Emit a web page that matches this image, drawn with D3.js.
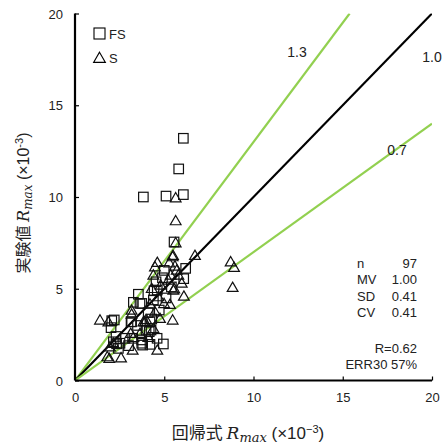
<!DOCTYPE html>
<html><head><meta charset="utf-8">
<script src="https://cdn.jsdelivr.net/npm/d3@7"></script>
<style>body{margin:0;background:#fff}svg{display:block}</style>
</head><body>
<script>
const xTicks = [0, 5, 10, 15, 20];
const yTicks = [0, 5, 10, 15, 20];
const fsPoints = [[6.07,13.2],[5.81,11.53],[3.83,10.0],[5.10,10.05],[6.07,10.13],[5.55,7.55],[6.2,6.11],[6.09,5.55],[4.54,5.38],[4.43,4.89],[4.61,4.93],[3.55,4.7],[3.27,4.26],[3.64,4.2],[4.39,4.39],[4.72,3.84],[2.2,3.3],[2.02,2.88],[3.14,3.2],[4.3,3.35],[3.98,2.75],[4.26,2.75],[3.74,2.21],[3.79,1.93],[2.15,2.11],[2.52,2.03],[2.43,1.75],[4.2,1.97],[4.95,1.99],[2.06,3.26],[3.74,4.2],[3.17,3.2],[4.2,3.2],[2.33,2.0],[3.23,2.3],[4.16,2.66],[3.74,2.03],[5.0,6.0],[5.4,5.1],[4.9,5.6],[4.1,3.7],[2.8,2.3],[3.5,3.0],[5.1,4.5],[4.6,2.3],[3.0,1.9],[2.3,2.4]];
const sPoints = [[5.64,9.96],[5.64,8.71],[5.64,7.51],[5.49,6.82],[6.72,6.82],[8.72,6.47],[8.91,6.17],[8.83,5.08],[4.61,6.44],[5.47,6.75],[5.28,6.42],[5.6,6.24],[5.7,6.02],[4.48,6.2],[4.39,5.75],[5.36,5.75],[5.23,5.48],[5.98,5.31],[5.56,5.0],[4.3,5.02],[5.79,5.75],[5.51,4.93],[4.67,4.57],[3.17,3.84],[4.2,4.17],[4.99,4.2],[5.32,4.15],[4.48,3.75],[1.4,3.3],[1.87,3.2],[3.98,3.33],[4.76,3.39],[5.47,3.3],[3.83,3.2],[3.12,2.57],[3.27,2.35],[4.11,2.35],[2.15,2.03],[1.96,1.84],[4.61,1.66],[3.23,1.66],[2.58,1.24],[1.92,1.21],[1.81,1.3],[3.17,3.62],[3.64,2.57],[4.39,2.84],[3.92,3.2],[4.8,5.2],[6.1,4.6]];
const ratioLines = [{k:1.3,label:"1.3",color:"#92d050"},{k:1.0,label:"1.0",color:"#000"},{k:0.7,label:"0.7",color:"#92d050"}];
const statLabels = ["n","MV","SD","CV"];
const statValues = ["97","1.00","0.41","0.41"];
const extraStats = ["R=0.62","ERR30 57%"];

const W = 444, H = 446;
const svg = d3.select("body").append("svg").attr("width", W).attr("height", H)
  .style("font-family", "'Liberation Sans', Arial, sans-serif");
const x = d3.scaleLinear().domain([0,20]).range([75,432]);
const y = d3.scaleLinear().domain([0,20]).range([380.5,13.5]);

const clipId = "plotclip";
svg.append("clipPath").attr("id", clipId).append("rect")
  .attr("x", x(0)).attr("y", y(20)).attr("width", x(20)-x(0)).attr("height", y(0)-y(20));

// ratio lines
const lg = svg.append("g").attr("clip-path", `url(#${clipId})`);
ratioLines.forEach(r => {
  const xe = Math.min(20, 20 / r.k);
  lg.append("line").attr("x1", x(0)).attr("y1", y(0)).attr("x2", x(xe)).attr("y2", y(xe * r.k))
    .attr("stroke", r.color).attr("stroke-width", 2.2);
});

// points
const pg = svg.append("g").attr("fill","none").attr("stroke","#111").attr("stroke-width",1.2);
const sq = 9.5;
pg.selectAll("rect.fs").data(fsPoints).join("rect").attr("class","fs")
  .attr("x", d => x(d[0]) - sq/2).attr("y", d => y(d[1]) - sq/2).attr("width", sq).attr("height", sq);
const tri = d3.symbol().type(d3.symbolTriangle).size(50);
pg.selectAll("path.s").data(sPoints).join("path").attr("class","s")
  .attr("d", tri).attr("transform", d => `translate(${x(d[0])},${y(d[1])+1})`);

// axes
const xAxis = d3.axisBottom(x).tickValues(xTicks).tickSizeInner(-4).tickSizeOuter(0).tickPadding(12);
const yAxis = d3.axisLeft(y).tickValues(yTicks).tickSizeInner(-4).tickSizeOuter(0).tickPadding(12);
const gx = svg.append("g").attr("transform", `translate(0,${y(0)})`).call(xAxis);
const gy = svg.append("g").attr("transform", `translate(${x(0)},0)`).call(yAxis);
[gx, gy].forEach(g => {
  g.select(".domain").attr("stroke","#000").attr("stroke-width",2.2);
  g.selectAll(".tick line").attr("stroke","#000").attr("stroke-width",1.2);
  g.selectAll(".tick text").attr("font-size",13).attr("fill","#222")
    .style("font-family","'Liberation Sans', Arial, sans-serif");
});
gy.select(".domain").attr("d", `M0,${y(20)}V${y(0)}`);
gx.select(".domain").attr("d", `M${x(0)},0H${x(20)}`);
gy.selectAll(".tick text").attr("dy","0.35em");

// line labels
const labPos = {"1.3":[297,52],"1.0":[432,57],"0.7":[397,150]};
ratioLines.forEach(r => {
  svg.append("text").attr("x", labPos[r.label][0]).attr("y", labPos[r.label][1]).attr("dy","0.35em")
    .attr("text-anchor","middle").attr("font-size",14).attr("fill","#222").text(r.label);
});

// legend
svg.append("rect").attr("x",94).attr("y",28).attr("width",11).attr("height",11)
  .attr("fill","none").attr("stroke","#000").attr("stroke-width",1.1);
svg.append("text").attr("x",109).attr("y",34).attr("dy","0.35em").attr("font-size",13).attr("fill","#222").text("FS");
svg.append("path").attr("d", d3.symbol().type(d3.symbolTriangle).size(60))
  .attr("transform","translate(99.5,59)").attr("fill","none").attr("stroke","#000").attr("stroke-width",1.1);
svg.append("text").attr("x",109).attr("y",58).attr("dy","0.35em").attr("font-size",13).attr("fill","#222").text("S");

// stats
const rowY = [263,279,296,312];
statLabels.forEach((l,i) => {
  svg.append("text").attr("x",357).attr("y",rowY[i]).attr("dy","0.35em").attr("font-size",13).attr("fill","#222").text(l);
  svg.append("text").attr("x",417).attr("y",rowY[i]).attr("dy","0.35em").attr("text-anchor","end").attr("font-size",13).attr("fill","#222").text(statValues[i]);
});
[348,364].forEach((yy,i) => {
  svg.append("text").attr("x",417).attr("y",yy).attr("dy","0.35em").attr("text-anchor","end").attr("font-size",13).attr("fill","#222").text(extraStats[i]);
});

// axis titles
const xt = svg.append("text").attr("x",248).attr("y",433).attr("dy","0.35em").attr("text-anchor","middle")
  .attr("font-size",17).attr("fill","#222");
xt.append("tspan").style("font-family","'Noto Sans CJK JP', sans-serif").text("回帰式 ");
xt.append("tspan").style("font-family","'DejaVu Serif', serif").attr("font-style","italic").text("R");
xt.append("tspan").style("font-family","'DejaVu Serif', serif").attr("font-style","italic").attr("font-size",13).attr("dy","3").text("max");
xt.append("tspan").attr("dy","-3").text(" (×10");
xt.append("tspan").attr("font-size",11).attr("dy","-6").text("−3");
xt.append("tspan").attr("dy","6").text(")");

const yt = svg.append("text").attr("transform","translate(23,203) rotate(-90)").attr("dy","0.35em").attr("text-anchor","middle")
  .attr("font-size",16).attr("fill","#222");
yt.append("tspan").style("font-family","'Noto Sans CJK JP', sans-serif").text("実験値 ");
yt.append("tspan").style("font-family","'DejaVu Serif', serif").attr("font-style","italic").text("R");
yt.append("tspan").style("font-family","'DejaVu Serif', serif").attr("font-style","italic").attr("font-size",12).attr("dy","3").text("max");
yt.append("tspan").attr("dy","-3").text(" (×10");
yt.append("tspan").attr("font-size",11).attr("dy","-6").text("-3");
yt.append("tspan").attr("dy","6").text(")");
</script>
</body></html>
